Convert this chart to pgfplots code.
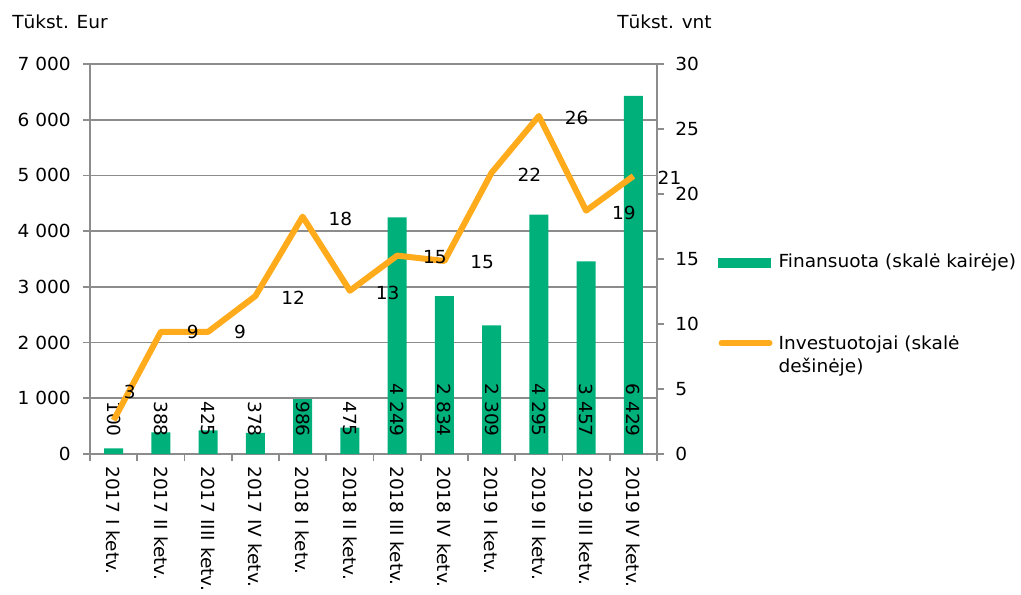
\documentclass[border=0pt]{standalone}
\usepackage{pgfplots}
\pgfplotsset{compat=1.18}
\usepackage{pgfplotstable}
\usepackage{fontspec}
\setmainfont{DejaVu Sans}[FakeStretch=1.03]
\definecolor{barg}{RGB}{0,176,122}
\definecolor{lineo}{RGB}{255,171,28}
\definecolor{gridc}{RGB}{140,140,140}

\pgfplotstableread[col sep=comma]{
x,y,lab
0,100,100
1,388,388
2,425,425
3,378,378
4,986,986
5,475,475
6,4249,4 249
7,2834,2 834
8,2309,2 309
9,4295,4 295
10,3457,3 457
11,6429,6 429
}\bars

\pgfplotstableread[col sep=comma]{
x,y,lab,dx,dy
0,2.6,3,5.5,21
1,9.4,9,17.25,0
2,9.4,9,17.25,0
3,12.15,12,17.25,-1.5
4,18.26,18,17.25,-1.5
5,12.56,13,17.25,-1.5
6,15.26,15,17.25,-1
7,14.85,15,17.25,-1
8,21.64,22,17.25,-1.5
9,26.0,26,17.25,-1.5
10,18.72,19,17.25,-1.5
11,21.38,21,16,-1
}\inv

\begin{document}
\fontsize{13.5}{17.25}\selectfont
\begin{tikzpicture}
\begin{axis}[
  at={(67.5pt,105pt)}, anchor=south west,
  scale only axis, width=425.25pt, height=292.5pt,
  xmin=-0.5, xmax=11.5, ymin=0, ymax=7000,
  axis x line*=bottom, axis y line*=left,
  axis line style={gridc, line width=1.2pt},
  ytick={0,1000,...,7000},
  ymajorgrids, grid style={gridc, line width=1.2pt},
  tick align=outside,
  major tick length=5.25pt,
  tick style={gridc, line width=1.2pt},
  xtick={0,...,11},
  xticklabels={2017 I ketv.,2017 II ketv.,2017 IIII ketv.,2017 IV ketv.,2018 I ketv.,2018 II ketv.,2018 III ketv.,2018 IV ketv.,2019 I ketv.,2019 II ketv.,2019 III ketv.,2019 IV ketv.},
  major x tick style={draw=none},
  minor xtick={-0.5,0.5,...,11.5},
  minor tick length=5.25pt,
  xticklabel style={yshift=-3.75pt, rotate=-90, anchor=west, inner sep=0pt},
  yticklabel style={xshift=-9pt, anchor=east, inner sep=0pt},
  /pgf/number format/1000 sep={\ },
  /pgf/number format/assume math mode=true,
  clip=false,
]
\addplot[ybar, bar width=14.25pt, fill=barg, draw=none] table[x=x, y=y]{\bars};
\addplot[draw=none, mark=none, nodes near coords, point meta=explicit symbolic,
  every node near coord/.style={yshift=12.75pt, rotate=-90, anchor=east, inner sep=0pt, text=black}]
  table[x=x, y expr=0, meta=lab]{\bars};
\end{axis}
\begin{axis}[
  at={(67.5pt,105pt)}, anchor=south west,
  scale only axis, width=425.25pt, height=292.5pt,
  xmin=-0.5, xmax=11.5, ymin=0, ymax=30,
  axis x line=none, axis y line*=right,
  axis line style={gridc, line width=1.2pt},
  ytick={0,5,...,30},
  tick align=outside,
  major tick length=5.25pt,
  tick style={gridc, line width=1.2pt},
  yticklabel style={xshift=8.25pt, anchor=west, inner sep=0pt},
  /pgf/number format/assume math mode=true,
  clip=false,
  legend cell align=left,
  legend style={draw=none, fill=none, at={(1.1076,0.5127)}, anchor=north west,
    inner sep=0pt, row sep=47.25pt, column sep=0pt, nodes={inner sep=0pt}},
]
\addlegendimage{legend image code/.code={\fill[barg] (0pt,-3.375pt) rectangle (39pt,3.375pt); \path (42.75pt,0pt);}}
\addlegendentry{Finansuota (skalė kairėje)}
\addplot[lineo, line width=4.5pt, line join=round, mark=none,
  legend image code/.code={\draw[lineo, line width=4.5pt, line cap=round] (2.25pt,0pt) -- (38.25pt,0pt); \path (42.75pt,0pt);},
  nodes near coords, point meta=explicit symbolic,
  visualization depends on={\thisrow{dx} \as \dx},
  visualization depends on={\thisrow{dy} \as \dy},
  every node near coord/.style={xshift=\dx pt, yshift=\dy pt, anchor=west, inner sep=0pt, text=black}]
  table[x=x, y=y, meta=lab]{\inv};
\addlegendentry{\begin{tabular}[t]{@{}l@{}}Investuotojai (skalė\\dešinėje)\end{tabular}}
\end{axis}
\node[anchor=west, inner sep=0pt] at (9pt,429pt) {Tūkst. Eur};
\node[anchor=west, inner sep=0pt] at (462.75pt,429pt) {Tūkst. vnt};
\pgfresetboundingbox
\useasboundingbox (0,0) rectangle (765.75pt,445.5pt);
\end{tikzpicture}
\end{document}
